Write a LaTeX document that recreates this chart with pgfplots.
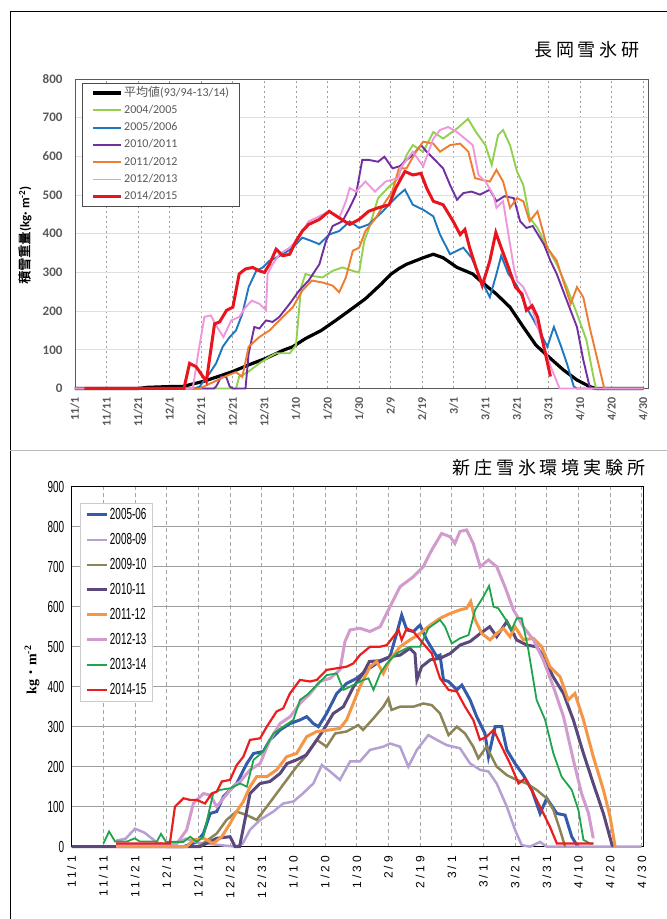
\documentclass[border=0pt]{standalone}
\usepackage{fontspec}
\setmainfont{Carlito}
\newfontfamily\cjk{Noto Sans CJK JP}
\newfontfamily\cjkb{Noto Sans CJK JP}[FakeBold=1.5]
\newfontfamily\cjkw{Noto Sans CJK JP}[LetterSpace=22]
\newfontfamily\narrow{Liberation Sans}[FakeStretch=0.62]
\newfontfamily\spaced{Liberation Sans}[LetterSpace=25]
\newfontfamily\serifb{Liberation Serif}
\usepackage{pgfplots}
\pgfplotsset{compat=1.18}
\definecolor{tgray}{RGB}{89,89,89}
\definecolor{cg04}{RGB}{146,208,80}
\definecolor{cb05}{RGB}{31,119,190}
\definecolor{cp10}{RGB}{112,48,160}
\definecolor{co11}{RGB}{237,125,49}
\definecolor{ck12}{RGB}{240,150,220}
\definecolor{cr14}{RGB}{232,20,30}
\definecolor{s05}{RGB}{52,90,170}
\definecolor{s08}{RGB}{180,160,210}
\definecolor{s09}{RGB}{140,132,86}
\definecolor{s10}{RGB}{90,72,125}
\definecolor{s11}{RGB}{245,150,70}
\definecolor{s12}{RGB}{210,155,205}
\definecolor{s13}{RGB}{30,165,75}
\definecolor{s14}{RGB}{235,30,30}
\begin{document}
\begin{tikzpicture}[x=1pt,y=1pt]
\path[use as bounding box] (0pt,0pt) rectangle (667pt,919pt);
\draw[black, line width=1pt] (10pt,0pt) -- (10pt,907pt) -- (667pt,907pt);
\draw[gray!55, line width=1pt] (10pt,468pt) -- (667pt,468pt);
\node[font=\cjkw\fontsize{18}{18}\selectfont] at (587pt,869pt) {長岡雪氷研};
\node[font=\cjkw\fontsize{18}{18}\selectfont] at (549pt,451pt) {新庄雪氷環境実験所};
\node[rotate=90, font=\fontsize{13}{13}\selectfont] at (25pt,684pt) {{\cjkb 積雪重量}\textbf{(kg· m\textsuperscript{-2})}};
\node[rotate=90, font=\fontsize{14}{14}\selectfont] at (32pt,249pt) {{\serifb\bfseries kg}{\cjk ・}{\serifb\bfseries m\textsuperscript{-2}}};

% ---------------- top panel ----------------
\begin{axis}[
  at={(75pt,530.5pt)}, anchor=south west, scale only axis,
  width=573pt, height=309.5pt,
  xmin=0, xmax=181.5, ymin=0, ymax=800,
  clip=false,
  xtick={0,10,...,180},
  xticklabels={11/1,11/11,11/21,12/1,12/11,12/21,12/31,1/10,1/20,1/30,2/9,2/19,3/1,3/11,3/21,3/31,4/10,4/20,4/30},
  ytick={0,100,...,800},
  major tick length=0pt,
  xmajorgrids, ymajorgrids,
  x grid style={gray!75, dash pattern=on 2.5pt off 2.5pt, line width=0.8pt},
  y grid style={gray!25, line width=0.8pt},
  axis line style={draw=gray!70!black, line width=0.9pt},
  /pgf/number format/assume math mode=true,
  yticklabel style={font=\bfseries\fontsize{13}{13}\selectfont, text=tgray, xshift=-9pt},
  xticklabel style={font=\bfseries\fontsize{12}{12}\selectfont, text=tgray, rotate=90, anchor=east},
  xticklabel shift=5pt,
  legend image code/.code={\draw[#1] (0pt,0pt) -- (28pt,0pt);},
  legend cell align=left,
  legend style={at={(0.0122,0.987)}, anchor=north west, draw=gray!60!black, line width=1pt,
    font=\fontsize{12}{12}\selectfont, text=tgray, inner xsep=9pt, inner ysep=3pt, row sep=4.3pt,
    nodes={inner sep=1.5pt, text height=8pt, text depth=2pt}},
]
\addplot[black, line width=3.2pt] coordinates {(0,0)(20,0)(23,3)(30,5)(34,5)(40.5,18)(45,30)(50,44)(55,61)(60.5,78)(66,99)(69,108)(73,129)(78,150)(82.6,176)(87,202)(92,232)(97,270)(100,295)(102.6,310)(105,321)(110.3,338)(113.5,347)(116.6,338)(121,313)(126,296)(129,274)(133.5,244)(137.8,210)(142,159)(146,112)(150,82)(154.7,48)(159,22)(163,5)(165,0)(180,0)};
\addlegendentry{{\cjk 平均値}(93/94-13/14)}
\addplot[cg04, line width=1.9pt] coordinates {(0,0)(51,0)(52,30)(55,44)(58.4,65)(61.6,82)(63.7,91)(68,91)(70,112)(71.6,262)(73,296)(75,291)(78.4,287)(81.6,304)(84.7,313)(88,304)(90,300)(91.6,381)(93,411)(96,492)(99.5,522)(102,540)(105,603)(107,629)(110.3,612)(113.5,663)(116.6,646)(121,672)(124.5,697)(127,663)(130,629)(132,578)(134,655)(135.6,668)(137.8,629)(140,561)(142,526)(144,441)(146.5,415)(149.6,364)(152.6,321)(155.8,262)(159,193)(162,125)(164,39)(165,0)(180,0)};
\addlegendentry{2004/2005}
\addplot[cb05, line width=1.9pt] coordinates {(0,0)(38,0)(39.5,5)(42.6,39)(44.7,65)(46.8,108)(49,133)(51,150)(53,193)(55,262)(57.4,304)(59.5,313)(61.6,330)(63.7,338)(65.8,347)(69,364)(72,390)(75,381)(77.4,373)(80.5,398)(83.7,407)(87,432)(90,415)(93,424)(97.5,458)(100.6,485)(102.6,501)(104.5,514)(107,475)(110.3,462)(113.5,445)(115.6,398)(118.8,347)(121,356)(123,364)(125.6,338)(128.3,287)(131.4,236)(133.5,296)(135,343)(137.3,296)(140,266)(143,210)(146.5,159)(149.6,108)(151.7,159)(154,108)(155.8,65)(158,5)(159,0)(180,0)};
\addlegendentry{2005/2006}
\addplot[cp10, line width=1.9pt] coordinates {(0,0)(44,0)(44.7,5)(46.3,30)(47.9,30)(49,5)(50,0)(54,0)(55,90)(56.8,159)(58.4,155)(60.5,176)(62.6,172)(64.7,185)(68,219)(71,253)(74,279)(77.4,321)(79.5,381)(81.6,420)(84.7,432)(87,467)(89,501)(91,591)(93,591)(96,586)(98,599)(100.6,569)(103,575)(105,591)(107,603)(109.6,629)(111.4,612)(113.5,595)(116.6,569)(118.8,526)(121,488)(123,505)(125.6,509)(128.3,501)(131.4,514)(133.5,484)(136,497)(139,492)(141,432)(143,415)(145,420)(148.5,373)(150.6,330)(152.6,296)(155.8,227)(159,159)(161,74)(163,5)(164,0)(180,0)};
\addlegendentry{2010/2011}
\addplot[co11, line width=1.9pt] coordinates {(0,0)(39.5,0)(44.7,20)(48,33)(51,42)(53,30)(55,108)(58.4,133)(61.6,150)(65.8,185)(69,210)(72,253)(75,279)(78.4,274)(81.6,266)(83.7,249)(85.8,287)(88,356)(90,364)(92,407)(95.3,441)(98.4,484)(100.5,509)(102.6,569)(105,569)(108,612)(110.3,638)(113.5,633)(115.6,612)(118.8,629)(122,633)(124.6,612)(126.7,544)(129,539)(131.4,535)(133.5,565)(135.6,535)(137.8,467)(140,492)(142,484)(144,432)(146.5,458)(149.6,364)(152.6,330)(157,219)(159,262)(161,236)(163,159)(165,91)(167.5,5)(168,0)(180,0)};
\addlegendentry{2011/2012}
\addplot[ck12, line width=1.9pt] coordinates {(0,0)(37,0)(37.4,5)(39,90)(41,185)(43,189)(45,159)(47,133)(49.5,176)(52,185)(54,210)(56,227)(58.4,219)(60.5,202)(61,296)(62.6,321)(64.7,347)(68,364)(71,390)(74,432)(77.4,445)(80.5,458)(83.7,441)(85.8,484)(87,518)(89,509)(92,535)(95,509)(98.4,535)(102.6,544)(103,569)(107,612)(110.3,574)(113.5,646)(115.6,668)(118.2,676)(121,663)(123.5,646)(126,629)(127.8,552)(130,535)(132.5,501)(133.5,467)(135.6,484)(137.3,398)(139,313)(140,279)(142,262)(144,227)(146.5,159)(148.5,110)(150.5,60)(153.5,0)(180,0)};
\addlegendentry{2012/2013}
\addplot[cr14, line width=3pt] coordinates {(3,0)(34.5,0)(36.3,65)(38.4,56)(41.6,18)(44.2,167)(45.8,172)(48,202)(50,210)(52,296)(54,309)(56.3,313)(58.4,304)(60,300)(61.6,321)(63.7,360)(65.8,343)(68,347)(70,381)(72,407)(74,424)(77.4,437)(80.5,458)(83.7,441)(87,424)(90,437)(93,458)(96,467)(99.5,475)(101.6,518)(104.5,561)(107,552)(109.6,556)(111.4,518)(113.5,484)(116.6,475)(119.8,432)(122,398)(123.5,411)(125,364)(127,313)(129,266)(131.4,330)(133.3,403)(135,364)(137.3,313)(139.5,262)(141.6,244)(143,202)(144.8,214)(146.5,185)(148.5,108)(150.6,31)};
\addlegendentry{2014/2015}
\end{axis}

% ---------------- bottom panel ----------------
\begin{axis}[
  at={(71.7pt,72.3pt)}, anchor=south west, scale only axis,
  width=571.3pt, height=360pt,
  xmin=0, xmax=180.4, ymin=0, ymax=900,
  clip=false,
  xtick={0,10,...,180},
  xticklabels={11/1,11/11,11/21,12/1,12/11,12/21,12/31,1/10,1/20,1/30,2/9,2/19,3/1,3/11,3/21,3/31,4/10,4/20,4/30},
  ytick={0,100,...,900},
  major tick length=0pt,
  xmajorgrids, ymajorgrids,
  x grid style={gray!70, dash pattern=on 4pt off 3pt, line width=0.7pt},
  y grid style={gray!75, line width=0.9pt},
  axis line style={draw=black, line width=1pt},
  /pgf/number format/assume math mode=true,
  yticklabel style={font=\narrow\fontsize{16}{16}\selectfont, xshift=-4pt},
  xticklabel style={font=\spaced\fontsize{12}{12}\selectfont, rotate=90, anchor=east},
  xticklabel shift=6pt,
  legend image code/.code={\draw[#1] (0pt,0pt) -- (20pt,0pt);},
  legend cell align=left,
  legend style={at={(0.0145,0.955)}, anchor=north west, draw=gray!40, line width=1pt,
    font=\narrow\fontsize{16}{16}\selectfont, inner xsep=5pt, inner ysep=4pt, row sep=10pt,
    nodes={inner sep=1.5pt, text height=11pt, text depth=1pt}},
]
\addplot[s05, line width=3pt] coordinates {(30,0)(35.3,0)(39.5,12)(41.6,33)(43.7,83)(45.8,88)(47.9,125)(50,142)(52.1,158)(55.3,208)(57.4,233)(60.5,238)(62.6,267)(65.8,292)(69,308)(72.1,317)(74.2,325)(76.3,308)(77.9,300)(80.5,333)(83.7,383)(86.8,408)(90,421)(93.2,442)(96.3,458)(100.5,475)(102.6,533)(104.2,579)(105.8,542)(107.9,538)(110,554)(112.1,517)(115.3,475)(116.3,479)(117.4,417)(119,413)(121.6,392)(123.2,404)(125.8,367)(127.9,325)(130.5,283)(131.6,225)(133.7,300)(135.8,300)(137.4,242)(140,208)(142.6,179)(145.3,142)(147.9,83)(150,121)(153.2,83)(155.8,79)(157.9,25)(159.5,4)(160,0)};
\addlegendentry{2005-06}
\addplot[s08, line width=2.5pt] coordinates {(14,15)(17,20)(20,45)(23,35)(27,10)(30,5)(33,8)(36,20)(40,10)(48,3)(52,0)(54,8)(56.3,42)(59.5,67)(63.7,88)(66.8,108)(70,113)(73,133)(76.3,158)(79,204)(81.6,188)(84.7,167)(87.9,213)(91,213)(94.2,242)(98.4,250)(100.5,258)(103.7,250)(106.3,200)(109,242)(112.6,279)(115.3,267)(118.4,254)(122.6,246)(125.8,208)(129,192)(131.6,188)(134.2,158)(137.4,100)(140,42)(142.1,4)(144.7,0)(147.9,12)(150,0)(180,0)};
\addlegendentry{2008-09}
\addplot[s09, line width=2.5pt] coordinates {(40,0)(45.8,33)(48.9,67)(52,88)(55.3,79)(58.4,67)(61.6,100)(64.7,133)(67.9,167)(71,200)(74.2,229)(77.4,267)(80.5,250)(83.2,283)(86.8,288)(90.5,304)(92,292)(95.3,321)(98.4,350)(100,371)(101,342)(103.7,350)(107.9,350)(111,358)(113.7,354)(116.3,333)(119,279)(121.6,300)(124.2,283)(126.8,250)(128.4,221)(131,250)(134.2,200)(137.4,179)(140.5,167)(143.7,158)(146.8,142)(150,121)(152.1,92)(154.2,42)(155.8,0)};
\addlegendentry{2009-10}
\addplot[s10, line width=3pt] coordinates {(0,0)(40.5,0)(45.8,21)(50,25)(51.6,0)(53,0)(54.7,67)(56.3,133)(59.5,158)(62.6,163)(65.8,183)(68,208)(71,217)(74,229)(77.4,267)(79.5,292)(82.6,333)(85.8,350)(89,400)(92,433)(94,463)(97.4,465)(100.5,475)(103.7,479)(106.8,496)(108.4,483)(109,417)(110.5,450)(113.2,467)(116.3,471)(119.5,483)(122.6,504)(125.8,513)(129,533)(132,550)(134.2,525)(137.4,563)(140.5,517)(143.7,504)(146.8,500)(149,475)(152,425)(155.3,383)(158.4,317)(161.6,233)(164.7,158)(167.9,83)(170.5,8)(171,0)};
\addlegendentry{2010-11}
\addplot[s11, line width=3pt] coordinates {(14,0)(36.3,0)(38.4,17)(41.6,21)(44.7,8)(47.4,25)(50,58)(52.1,88)(54.2,113)(56.3,150)(58.4,175)(61.6,175)(64.7,192)(67.9,225)(71,233)(74.2,275)(77.4,288)(81.6,292)(84.7,296)(86.8,317)(88.9,358)(91,400)(94.2,450)(96.3,463)(98.4,433)(100.5,467)(103.7,500)(106.8,517)(110,533)(113.2,554)(116.3,571)(119.5,583)(122.6,592)(124.7,596)(126,613)(127.4,567)(129.5,533)(132.1,517)(134.2,533)(136.3,546)(138.4,525)(140,550)(142.6,517)(145.8,521)(148.4,500)(151,450)(154.2,425)(156.8,367)(158.9,383)(161.6,317)(164.7,225)(167.9,142)(170,75)(171.6,0)};
\addlegendentry{2011-12}
\addplot[s12, line width=3pt] coordinates {(14,5)(30,5)(33.2,8)(36.3,42)(38.4,108)(41.6,133)(43.7,129)(45.8,100)(47.9,121)(51,150)(53.2,163)(56.3,192)(59.5,208)(62.6,267)(65.8,308)(69,325)(72.1,358)(75.3,383)(78.4,413)(81.6,421)(84.7,442)(86.3,513)(87.9,542)(91,546)(94.2,538)(97.4,550)(100.5,600)(103.7,650)(107.9,675)(111,700)(113.7,742)(116.8,783)(119.5,775)(121,758)(122.6,788)(124.7,792)(126.8,758)(129,700)(131.6,717)(134.2,700)(136.8,650)(139.5,592)(142.6,550)(145.8,517)(148.9,467)(152.1,400)(155.3,325)(158.4,217)(161,133)(163.2,83)(164.7,21)};
\addlegendentry{2012-13}
\addplot[s13, line width=1.8pt] coordinates {(10,8)(11.8,38)(13.7,13)(17.5,13)(19.9,21)(21.5,13)(26.9,13)(28.2,32)(29.8,12)(35.3,12)(37.4,25)(39.5,12)(41.6,25)(43.2,83)(44.7,133)(46.8,142)(50,146)(53.2,158)(55.3,150)(57.4,217)(60.5,238)(63.7,283)(66.8,300)(70,317)(72.1,367)(74.2,379)(77.4,404)(80.5,429)(83.7,433)(85.8,392)(88.9,404)(92.1,417)(93.7,421)(95.3,392)(97.4,433)(99.5,458)(102.6,483)(103.7,488)(106.8,500)(110,500)(112.6,546)(116.3,567)(117.9,550)(120,508)(122.6,521)(125.3,529)(127.4,592)(130,625)(131.8,652)(133.2,600)(134.7,596)(136.8,571)(138.9,542)(140.5,571)(142.1,571)(144.2,492)(146.8,367)(149.5,317)(152.1,233)(154.7,175)(157.9,142)(160,92)(161.6,17)(163.7,8)(164.7,8)};
\addlegendentry{2013-14}
\addplot[s14, line width=2.2pt] coordinates {(14,8)(31,8)(32.6,100)(35.3,121)(37.4,117)(39.5,117)(42.1,108)(44.2,133)(45.8,138)(47.4,163)(50,167)(52.1,204)(54.2,225)(56.3,267)(59.5,271)(61.6,300)(64.7,338)(66.8,346)(68.9,383)(72.1,417)(75.3,413)(77.4,417)(80.5,442)(83.7,446)(86.8,450)(88.9,458)(91,479)(94.2,500)(97.4,500)(99.5,504)(101.6,525)(103.2,542)(104.2,517)(105.8,546)(107.9,538)(111,508)(113.7,483)(116.3,421)(119,392)(121.6,388)(124.2,350)(126.8,317)(128.9,267)(131,275)(133.2,292)(135.3,258)(138.4,208)(141.1,158)(143.2,171)(145.8,133)(148.4,92)(151,50)(153.2,8)(164.7,8)};
\addlegendentry{2014-15}
\end{axis}
\end{tikzpicture}
\end{document}
